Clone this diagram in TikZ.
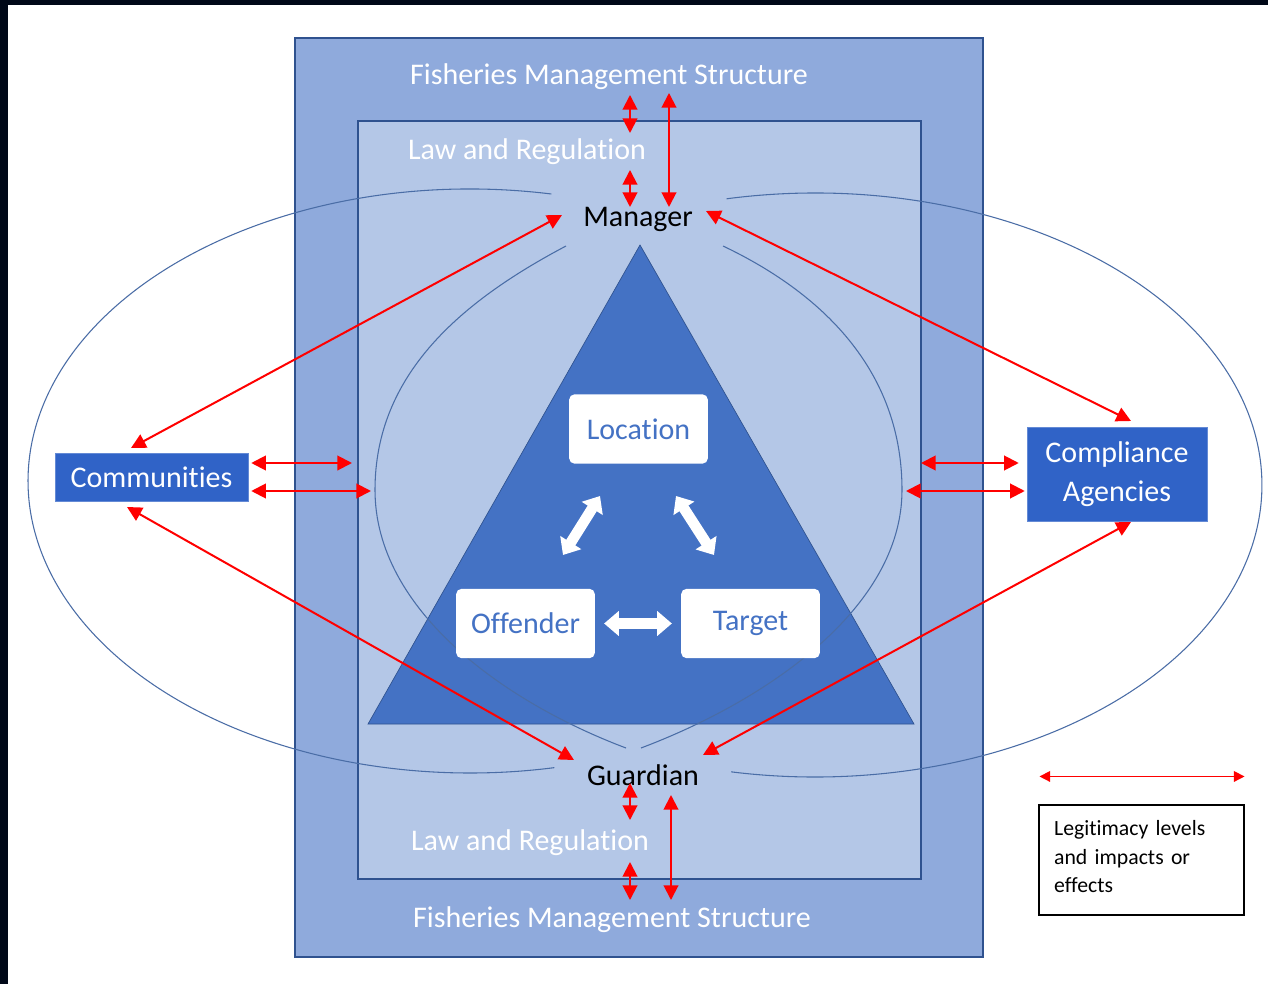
\documentclass[tikz,border=0pt]{standalone}
\usepackage{fontspec}
\setmainfont{Carlito}[Ligatures=NoCommon]
\usepackage{tikz}
\usetikzlibrary{arrows.meta,calc}
\definecolor{fmsblue}{HTML}{8FAADC}
\definecolor{lawblue}{HTML}{B4C7E7}
\definecolor{triblue}{HTML}{4472C4}
\definecolor{edgeblue}{HTML}{2F528F}
\definecolor{boxblue}{HTML}{3063C7}
\definecolor{ringblue}{HTML}{4A6DA6}
\definecolor{frameink}{HTML}{000818}

\begin{document}
\begin{tikzpicture}[x=0.75pt,y=-0.75pt,
	every node/.style={font=\fontsize{22.5}{29}\selectfont},
	legit/.style={red,line width=1.5pt,{Triangle[length=11pt,width=11pt]}-{Triangle[length=11pt,width=11pt]}},
	keyarr/.style={red,line width=1pt,{Triangle[length=8pt,width=8pt]}-{Triangle[length=8pt,width=8pt]}},
	blockarr/.style={white,line width=8pt,{Triangle[length=11pt,width=18pt]}-{Triangle[length=11pt,width=18pt]}},
	whitebox/.style={fill=white,rounded corners=4pt,minimum width=104pt,minimum height=52pt,inner sep=0pt,text=triblue},
	party/.style={fill=boxblue,draw=boxblue!75!white,text=white,align=center,inner sep=0pt},
	ring/.style={ringblue,line width=0.8pt}]
			\fill[white] (0,0) rectangle (1268,984);
			\useasboundingbox (0,0) rectangle (1268,984);
			\fill[frameink] (0,0) rectangle (1268,5);
			\fill[frameink] (0,0) rectangle (8,984);
			% structure and law
			\draw[edgeblue,line width=1.5pt,fill=fmsblue] (295,38) rectangle (983,957);
			\draw[edgeblue,line width=0.8pt,fill=lawblue] (358,121) rectangle (921,879);
			\draw[edgeblue,line width=0.5pt,fill=triblue] (640,245) -- (914,724) -- (368,724) -- cycle;
			% rings
			\draw[ring] (551.3,194) arc[start angle=-79.4,end angle=-281,x radius=442,y radius=292];
			\draw[ring] (726.6,198.8) arc[start angle=-101.4,end angle=100.8,x radius=447,y radius=292];
			\draw[ring] (566,246) .. controls (460,302) and (375,375) .. (375,490) .. controls (375,610) and (504,702) .. (626,748);
			\draw[ring] (723,246) .. controls (828,296) and (902,375) .. (902,490) .. controls (902,610) and (763,702) .. (641,748);
			% labels
			\node[text=white,anchor=base] (fms1) at (609,85) {Fisheries Management Structure};
			\node[text=white,anchor=base] (fms2) at (612,927) {Fisheries Management Structure};
			\node[text=white,anchor=base] (law1) at (527,160) {Law and Regulation};
			\node[text=white,anchor=base] (law2) at (530,850) {Law and Regulation};
			\node[anchor=base] (mgr) at (638,227) {Manager};
			\node[anchor=base] (grd) at (643,785) {Guardian};
			\node[whitebox] (loc) at (638.5,429) {Location};
			\node[whitebox] (off) at (525.5,623.5) {Offender};
			\node[whitebox] (tar) at (750.5,623.5) {Target};
			\node[party,minimum width=144.75pt,minimum height=36pt] (comm) at (151.5,477) {Communities};
			\node[party,minimum width=135pt,minimum height=70.5pt] (comp) at (1117,474) {Compliance\\Agencies};
			\node[draw,line width=0.8pt,minimum width=153.75pt,minimum height=82.5pt,inner xsep=11pt,
				text width=131pt,align=left,font=\fontsize{16.3}{21.4}\selectfont] (key) at (1141.5,860)
				{Legitimacy levels\\and impacts or\\effects\vspace{5pt}};
			% crime triangle links
			\draw[blockarr] ($(loc)+(-38.5,67)$) -- ($(off)+(37.5,-68.5)$);
			\draw[blockarr] ($(loc)+(37.5,67)$) -- ($(tar)+(-36.5,-68.5)$);
			\draw[blockarr] ($(off.east)+(9,0)$) -- ($(tar.west)+(-9,0)$);
			% legitimacy links
			\coordinate (fms-a) at (630,95);
			\coordinate (law-a) at (630,133);
			\coordinate (law-b) at (630,170);
			\coordinate (fms-b) at (669,93);
			\coordinate (law-c) at (630,820);
			\coordinate (law-d) at (630,862);
			\coordinate (fms-c) at (630,900);
			\coordinate (fms-d) at (671,900);
			\coordinate (law-l1) at (352,463);
			\coordinate (ring-l) at (371,491);
			\coordinate (law-r1) at (921,463);
			\coordinate (ring-r) at (906,491);
			\draw[legit] (fms-a) -- (law-a);
			\draw[legit] (law-b) -- ($(mgr.base)+(-8,-20)$);
			\draw[legit] (fms-b) -- ($(mgr.base)+(31,-20)$);
			\draw[legit] ($(grd.base)+(-13,-2)$) -- (law-c);
			\draw[legit] (law-d) -- (fms-c);
			\draw[legit] ($(grd.base)+(28,10)$) -- (fms-d);
			\draw[legit] ($(mgr.base)+(-76,-12)$) -- ($(comm)+(-20.5,-29)$);
			\draw[legit] ($(mgr.base)+(68,-16)$) -- ($(comp)+(14,-53)$);
			\draw[legit] ($(grd.base)+(-69,-25)$) -- ($(comm)+(-24.5,30)$);
			\draw[legit] ($(grd.base)+(60,-30)$) -- ($(comp)+(14,48)$);
			\draw[legit] ($(comm.east)+(3,-14)$) -- (law-l1);
			\draw[legit] ($(comm.east)+(3,14)$) -- (ring-l);
			\draw[legit] (law-r1) -- ($(comp.west)+(-8,-11)$);
			\draw[legit] (ring-r) -- ($(comp.west)+(-2,17)$);
			\draw[keyarr] ($(key.north west)+(1,-28)$) -- ($(key.north east)+(0,-28)$);
		\end{tikzpicture}
\end{document}
